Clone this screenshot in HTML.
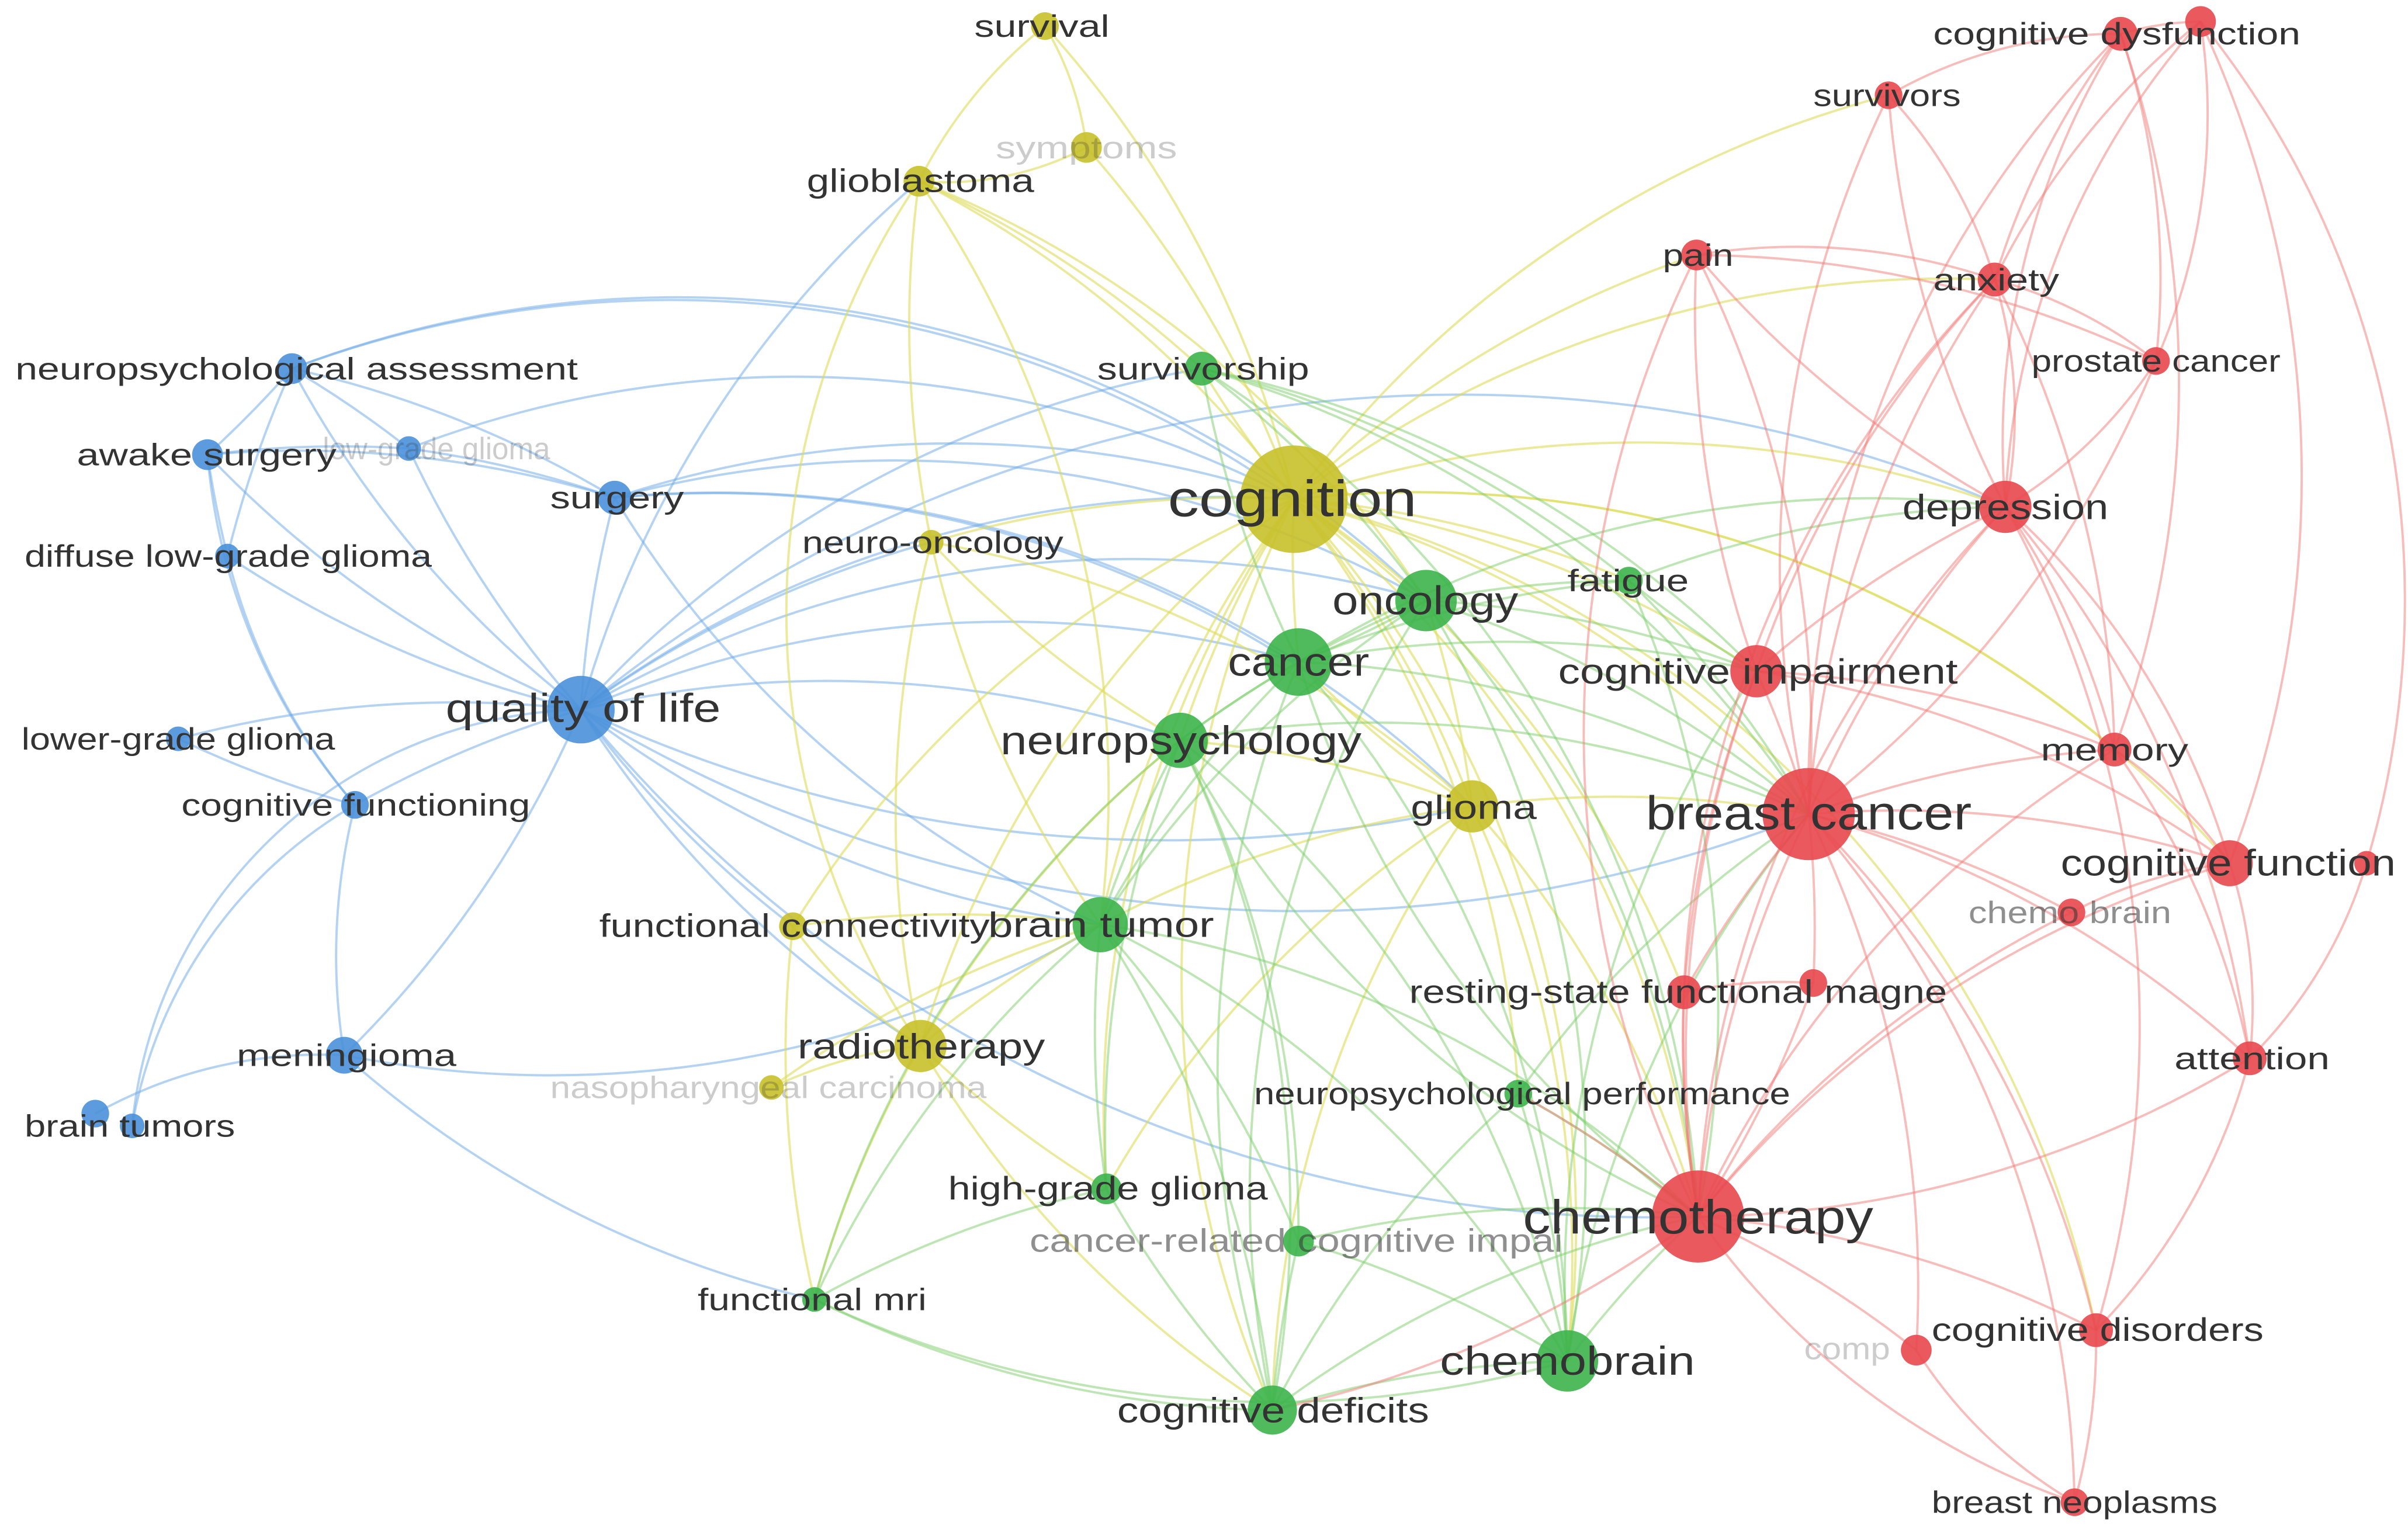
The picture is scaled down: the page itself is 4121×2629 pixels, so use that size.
<!DOCTYPE html>
<html><head><meta charset="utf-8"><style>
html,body{margin:0;padding:0;background:#fff;}
svg{display:block;}
text{font-family:"Liberation Sans",sans-serif;fill:#333;}
.f{fill-opacity:0.25}
.h{fill-opacity:0.55}
</style></head><body>
<svg width="4121" height="2629" viewBox="0 0 1567 1000" preserveAspectRatio="none" xmlns="http://www.w3.org/2000/svg">
<g fill="none" stroke="#6aa8e6" stroke-width="1.5" stroke-opacity="0.5">
<path d="M190,240A700,700 0 0 1 135,296"/><path d="M190,240A700,700 0 0 1 400,324"/><path d="M190,240A700,700 0 0 0 378,462"/><path d="M190,240A700,700 0 0 1 266,292"/><path d="M190,240A700,700 0 0 0 148,362"/><path d="M190,240A700,700 0 0 1 842,325"/><path d="M190,240A700,700 0 0 1 928,391"/>
<path d="M135,296A700,700 0 0 1 266,292"/><path d="M135,296A700,700 0 0 0 148,362"/><path d="M135,296A700,700 0 0 0 378,462"/><path d="M135,296A700,700 0 0 1 400,324"/><path d="M135,296A400,400 0 0 0 231,524"/>
<path d="M266,292A700,700 0 0 1 400,324"/><path d="M266,292A700,700 0 0 0 378,462"/><path d="M266,292A700,700 0 0 1 842,325"/>
<path d="M400,324A700,700 0 0 0 378,462"/><path d="M400,324A700,700 0 0 1 842,325"/><path d="M400,324A700,700 0 0 1 928,391"/><path d="M400,324A700,700 0 0 1 845,431"/><path d="M400,324A700,700 0 0 0 716,602"/><path d="M400,324A700,700 0 0 1 958,525"/>
<path d="M148,362A700,700 0 0 0 378,462"/><path d="M148,362A400,400 0 0 0 231,524"/><path d="M116,481A700,700 0 0 1 378,462"/><path d="M116,481A700,700 0 0 0 231,524"/>
<path d="M231,524A700,700 0 0 1 378,462"/><path d="M231,524A400,400 0 0 0 224,687"/><path d="M231,524A300,300 0 0 0 86,733"/>
<path d="M224,687A700,700 0 0 0 378,462"/><path d="M224,687A300,300 0 0 0 62,725"/><path d="M224,687A700,700 0 0 0 716,602"/><path d="M224,687A700,700 0 0 0 530,846"/>
<path d="M378,462A700,700 0 0 1 842,325"/><path d="M378,462A700,700 0 0 1 845,431"/><path d="M378,462A700,700 0 0 1 768,482"/><path d="M378,462A700,700 0 0 0 716,602"/><path d="M378,462A700,700 0 0 1 928,391"/><path d="M378,462A900,900 0 0 0 958,525"/><path d="M378,462A900,900 0 0 0 1177,530"/><path d="M378,462A900,900 0 0 0 1105,792"/><path d="M378,462A700,700 0 0 0 599,681"/><path d="M378,462A700,700 0 0 1 606,353"/><path d="M378,462A700,700 0 0 0 516,603"/><path d="M378,462A700,700 0 0 1 598,118"/><path d="M378,462A700,700 0 0 1 782,240"/><path d="M378,462A900,900 0 0 1 1305,330"/><path d="M378,462A300,300 0 0 0 86,733"/>
</g>
<g fill="none" stroke="#dedc5a" stroke-width="1.5" stroke-opacity="0.6">
<path d="M680,17A300,300 0 0 0 598,118"/><path d="M680,17A700,700 0 0 1 842,325"/><path d="M680,17A200,200 0 0 1 707,96"/><path d="M707,96A700,700 0 0 1 842,325"/><path d="M707,96A200,200 0 0 1 598,118"/>
<path d="M598,118A700,700 0 0 1 842,325"/><path d="M598,118A700,700 0 0 0 606,353"/><path d="M598,118A700,700 0 0 1 716,602"/><path d="M598,118A500,500 0 0 0 599,681"/><path d="M598,118A700,700 0 0 1 928,391"/><path d="M598,118A700,700 0 0 1 782,240"/>
<path d="M842,325A700,700 0 0 0 606,353"/><path d="M842,325A700,700 0 0 1 958,525"/><path d="M842,325A700,700 0 0 0 845,431"/><path d="M842,325A700,700 0 0 1 928,391"/><path d="M842,325A700,700 0 0 0 768,482"/><path d="M842,325A700,700 0 0 0 716,602"/><path d="M842,325A700,700 0 0 0 599,681"/><path d="M842,325A700,700 0 0 1 1177,530"/><path d="M842,325A700,700 0 0 1 1105,792"/><path d="M842,325A700,700 0 0 1 1143,437"/><path d="M842,325A700,700 0 0 1 1305,330"/><path d="M842,325A700,700 0 0 1 782,240"/><path d="M842,325A700,700 0 0 1 1060,378"/><path d="M842,325A700,700 0 0 1 1104,166"/><path d="M842,325A700,700 0 0 1 1298,182"/><path d="M842,325A700,700 0 0 1 1229,62"/><path d="M842,325A700,700 0 0 1 1376,488"/><path d="M842,325A700,700 0 0 1 1451,562"/><path d="M842,325A700,700 0 0 1 1020,886"/><path d="M842,325A700,700 0 0 0 828,918"/><path d="M842,325A700,700 0 0 1 988,712"/><path d="M842,325A700,700 0 0 0 720,774"/><path d="M842,325A700,700 0 0 0 516,603"/><path d="M842,325A700,700 0 0 1 1096,646"/><path d="M842,325A700,700 0 0 1 1364,866"/>
<path d="M606,353A700,700 0 0 0 716,602"/><path d="M606,353A700,700 0 0 0 768,482"/><path d="M606,353A700,700 0 0 0 599,681"/><path d="M606,353A700,700 0 0 1 958,525"/>
<path d="M958,525A700,700 0 0 0 716,602"/><path d="M958,525A700,700 0 0 0 928,391"/><path d="M958,525A700,700 0 0 1 1105,792"/><path d="M958,525A700,700 0 0 1 845,431"/><path d="M958,525A700,700 0 0 1 1177,530"/><path d="M958,525A700,700 0 0 0 768,482"/><path d="M958,525A700,700 0 0 0 720,774"/><path d="M958,525A700,700 0 0 1 1020,886"/><path d="M958,525A700,700 0 0 0 828,918"/>
<path d="M516,603A700,700 0 0 1 716,602"/><path d="M516,603A300,300 0 0 0 599,681"/><path d="M516,603A700,700 0 0 0 530,846"/>
<path d="M599,681A700,700 0 0 1 716,602"/><path d="M599,681A700,700 0 0 1 768,482"/><path d="M599,681A700,700 0 0 0 720,774"/><path d="M599,681A700,700 0 0 0 828,918"/><path d="M599,681A700,700 0 0 0 530,846"/><path d="M599,681A300,300 0 0 0 502,708"/><path d="M502,708A700,700 0 0 1 716,602"/>
</g>
<g fill="none" stroke="#7ccd6a" stroke-width="1.5" stroke-opacity="0.5">
<path d="M782,240A700,700 0 0 1 928,391"/><path d="M782,240A700,700 0 0 0 845,431"/><path d="M782,240A700,700 0 0 1 1177,530"/><path d="M782,240A700,700 0 0 1 1105,792"/><path d="M782,240A700,700 0 0 1 1143,437"/><path d="M782,240A700,700 0 0 1 1060,378"/>
<path d="M928,391A700,700 0 0 1 845,431"/><path d="M928,391A700,700 0 0 1 1177,530"/><path d="M928,391A700,700 0 0 1 1105,792"/><path d="M928,391A700,700 0 0 0 768,482"/><path d="M928,391A700,700 0 0 1 1143,437"/><path d="M928,391A700,700 0 0 1 1060,378"/><path d="M928,391A700,700 0 0 1 1020,886"/><path d="M928,391A700,700 0 0 0 828,918"/><path d="M928,391A700,700 0 0 0 716,602"/>
<path d="M845,431A700,700 0 0 1 1177,530"/><path d="M845,431A700,700 0 0 0 1105,792"/><path d="M845,431A700,700 0 0 0 768,482"/><path d="M845,431A700,700 0 0 0 716,602"/><path d="M845,431A700,700 0 0 1 1143,437"/><path d="M845,431A700,700 0 0 1 1020,886"/><path d="M845,431A700,700 0 0 0 828,918"/><path d="M845,431A700,700 0 0 1 1060,378"/><path d="M845,431A700,700 0 0 1 1305,330"/>
<path d="M768,482A700,700 0 0 0 716,602"/><path d="M768,482A700,700 0 0 0 720,774"/><path d="M768,482A700,700 0 0 1 828,918"/><path d="M768,482A700,700 0 0 1 1177,530"/><path d="M768,482A700,700 0 0 0 1105,792"/><path d="M768,482A700,700 0 0 1 1020,886"/><path d="M768,482A700,700 0 0 0 530,846"/><path d="M768,482A700,700 0 0 1 845,808"/>
<path d="M716,602A700,700 0 0 0 720,774"/><path d="M716,602A700,700 0 0 1 828,918"/><path d="M716,602A700,700 0 0 0 530,846"/><path d="M716,602A700,700 0 0 1 1020,886"/><path d="M716,602A700,700 0 0 1 845,808"/><path d="M716,602A700,700 0 0 1 1105,792"/>
<path d="M988,712A700,700 0 0 1 1105,792"/><path d="M988,712A700,700 0 0 1 1177,530"/><path d="M988,712A700,700 0 0 1 1020,886"/><path d="M988,712A700,700 0 0 0 828,918"/>
<path d="M720,774A700,700 0 0 0 828,918"/><path d="M720,774A700,700 0 0 0 530,846"/><path d="M845,808A700,700 0 0 1 1105,792"/><path d="M845,808A700,700 0 0 0 828,918"/><path d="M845,808A700,700 0 0 1 1020,886"/>
<path d="M530,846A700,700 0 0 0 828,918"/><path d="M530,846A700,700 0 0 0 1020,886"/>
<path d="M1020,886A700,700 0 0 1 1105,792"/><path d="M1020,886A700,700 0 0 1 1177,530"/><path d="M1020,886A700,700 0 0 0 828,918"/><path d="M1020,886A700,700 0 0 1 1143,437"/><path d="M828,918A700,700 0 0 1 1105,792"/>
<path d="M1060,378A700,700 0 0 1 1177,530"/><path d="M1060,378A700,700 0 0 1 1105,792"/><path d="M1060,378A700,700 0 0 1 1305,330"/><path d="M1060,378A700,700 0 0 0 1143,437"/>
</g>
<g fill="none" stroke="#f07b78" stroke-width="1.5" stroke-opacity="0.5">
<path d="M1380,22A200,200 0 0 1 1432,14"/><path d="M1380,22A300,300 0 0 0 1229,62"/><path d="M1380,22A500,500 0 0 0 1298,182"/><path d="M1380,22A500,500 0 0 0 1305,330"/><path d="M1380,22A500,500 0 0 1 1403,235"/><path d="M1380,22A700,700 0 0 0 1177,530"/><path d="M1380,22A700,700 0 0 1 1376,488"/>
<path d="M1432,14A500,500 0 0 0 1298,182"/><path d="M1432,14A500,500 0 0 0 1305,330"/><path d="M1432,14A700,700 0 0 1 1451,562"/><path d="M1432,14A400,400 0 0 1 1403,235"/>
<path d="M1229,62A300,300 0 0 1 1298,182"/><path d="M1229,62A700,700 0 0 0 1177,530"/><path d="M1229,62A700,700 0 0 0 1305,330"/>
<path d="M1104,166A400,400 0 0 1 1298,182"/><path d="M1104,166A700,700 0 0 0 1305,330"/><path d="M1104,166A700,700 0 0 1 1177,530"/><path d="M1104,166A700,700 0 0 0 1143,437"/><path d="M1104,166A700,700 0 0 0 1105,792"/><path d="M1104,166A700,700 0 0 1 1403,235"/>
<path d="M1298,182A300,300 0 0 1 1305,330"/><path d="M1298,182A300,300 0 0 1 1403,235"/><path d="M1298,182A700,700 0 0 0 1177,530"/><path d="M1298,182A700,700 0 0 0 1105,792"/><path d="M1298,182A700,700 0 0 0 1143,437"/><path d="M1298,182A700,700 0 0 1 1376,488"/>
<path d="M1403,235A300,300 0 0 1 1305,330"/><path d="M1403,235A700,700 0 0 1 1177,530"/>
<path d="M1305,330A700,700 0 0 0 1177,530"/><path d="M1305,330A700,700 0 0 0 1105,792"/><path d="M1305,330A700,700 0 0 0 1143,437"/><path d="M1305,330A500,500 0 0 1 1376,488"/><path d="M1305,330A500,500 0 0 1 1451,562"/><path d="M1305,330A700,700 0 0 1 1464,689"/><path d="M1305,330A700,700 0 0 1 1364,866"/>
<path d="M1143,437A700,700 0 0 1 1177,530"/><path d="M1143,437A700,700 0 0 0 1105,792"/><path d="M1143,437A700,700 0 0 1 1376,488"/><path d="M1143,437A700,700 0 0 0 1096,646"/><path d="M1143,437A700,700 0 0 1 1451,562"/>
<path d="M1177,530A700,700 0 0 0 1105,792"/><path d="M1177,530A700,700 0 0 1 1376,488"/><path d="M1177,530A700,700 0 0 1 1451,562"/><path d="M1177,530A700,700 0 0 1 1348,594"/><path d="M1177,530A700,700 0 0 0 1096,646"/><path d="M1177,530A700,700 0 0 1 1180,640"/><path d="M1177,530A700,700 0 0 1 1464,689"/><path d="M1177,530A700,700 0 0 1 1364,866"/><path d="M1177,530A700,700 0 0 1 1350,978"/><path d="M1177,530A700,700 0 0 1 1247,879"/>
<path d="M1376,488A300,300 0 0 1 1451,562"/><path d="M1376,488A500,500 0 0 1 1464,689"/><path d="M1376,488A700,700 0 0 0 1105,792"/>
<path d="M1451,562A300,300 0 0 1 1464,689"/><path d="M1451,562A300,300 0 0 0 1348,594"/><path d="M1451,562A700,700 0 0 0 1105,792"/><path d="M1432,14A600,600 0 0 1 1540,562"/><path d="M1540,562A300,300 0 0 1 1464,689"/>
<path d="M1348,594A700,700 0 0 0 1105,792"/><path d="M1096,646A700,700 0 0 0 1105,792"/><path d="M1180,640A700,700 0 0 1 1105,792"/><path d="M1096,646A300,300 0 0 1 1180,640"/>
<path d="M1464,689A700,700 0 0 1 1105,792"/><path d="M1464,689A400,400 0 0 1 1364,866"/><path d="M1364,866A700,700 0 0 0 1105,792"/><path d="M1364,866A400,400 0 0 1 1350,978"/>
<path d="M1247,879A700,700 0 0 0 1105,792"/><path d="M1247,879A300,300 0 0 0 1350,978"/><path d="M1105,792A500,500 0 0 0 1350,978"/><path d="M1105,792A700,700 0 0 1 828,918"/><path d="M1105,792A700,700 0 0 0 988,712"/>
</g>
<g fill-opacity="0.9">
<g fill="#4a90d9">
<circle cx="190" cy="240" r="10"/><circle cx="135" cy="296" r="10"/><circle cx="266" cy="292" r="8"/><circle cx="400" cy="324" r="11"/><circle cx="148" cy="362" r="8"/><circle cx="378" cy="462" r="22"/><circle cx="116" cy="481" r="8"/><circle cx="231" cy="524" r="9"/><circle cx="224" cy="687" r="12"/><circle cx="62" cy="725" r="9"/><circle cx="86" cy="733" r="8"/>
</g>
<g fill="#c8c02a">
<circle cx="680" cy="17" r="9"/><circle cx="707" cy="96" r="10"/><circle cx="598" cy="118" r="10"/><circle cx="842" cy="325" r="35"/><circle cx="606" cy="353" r="8"/><circle cx="958" cy="525" r="17"/><circle cx="516" cy="603" r="9"/><circle cx="599" cy="681" r="17"/><circle cx="502" cy="708" r="8"/>
</g>
<g fill="#3cb44b">
<circle cx="782" cy="240" r="11"/><circle cx="928" cy="391" r="20"/><circle cx="1060" cy="378" r="9"/><circle cx="845" cy="431" r="22"/><circle cx="768" cy="482" r="18"/><circle cx="716" cy="602" r="18"/><circle cx="988" cy="712" r="9"/><circle cx="720" cy="774" r="10"/><circle cx="845" cy="808" r="10"/><circle cx="530" cy="846" r="8"/><circle cx="1020" cy="886" r="20"/><circle cx="828" cy="918" r="16"/>
</g>
<g fill="#e8474c">
<circle cx="1380" cy="22" r="11"/><circle cx="1432" cy="14" r="10"/><circle cx="1229" cy="62" r="9"/><circle cx="1104" cy="166" r="10"/><circle cx="1298" cy="182" r="11"/><circle cx="1403" cy="235" r="9"/><circle cx="1305" cy="330" r="17"/><circle cx="1143" cy="437" r="17"/><circle cx="1177" cy="530" r="30"/><circle cx="1376" cy="488" r="11"/><circle cx="1451" cy="562" r="15"/><circle cx="1540" cy="562" r="8"/><circle cx="1348" cy="594" r="9"/><circle cx="1096" cy="646" r="11"/><circle cx="1180" cy="640" r="9"/><circle cx="1464" cy="689" r="11"/><circle cx="1105" cy="792" r="30"/><circle cx="1364" cy="866" r="11"/><circle cx="1247" cy="879" r="10"/><circle cx="1350" cy="978" r="9"/>
</g>
</g>
<g lengthAdjust="spacingAndGlyphs">
<text x="10" y="247" font-size="20" textLength="366" lengthAdjust="spacingAndGlyphs">neuropsychological assessment</text>
<text x="50" y="303" font-size="20" textLength="169" lengthAdjust="spacingAndGlyphs">awake surgery</text>
<text x="210" y="299" font-size="20" class="f" textLength="148" lengthAdjust="spacingAndGlyphs">low-grade glioma</text>
<text x="358" y="331" font-size="20" textLength="87" lengthAdjust="spacingAndGlyphs">surgery</text>
<text x="16" y="369" font-size="20" textLength="265" lengthAdjust="spacingAndGlyphs">diffuse low-grade glioma</text>
<text x="290" y="470" font-size="26" textLength="179" lengthAdjust="spacingAndGlyphs">quality of life</text>
<text x="14" y="488" font-size="20" textLength="204" lengthAdjust="spacingAndGlyphs">lower-grade glioma</text>
<text x="118" y="531" font-size="20" textLength="227" lengthAdjust="spacingAndGlyphs">cognitive functioning</text>
<text x="154" y="694" font-size="20" textLength="143" lengthAdjust="spacingAndGlyphs">meningioma</text>
<text x="16" y="740" font-size="20" textLength="137" lengthAdjust="spacingAndGlyphs">brain tumors</text>
<text x="634" y="24" font-size="20" textLength="88" lengthAdjust="spacingAndGlyphs">survival</text>
<text x="648" y="103" font-size="20" class="f" textLength="118" lengthAdjust="spacingAndGlyphs">symptoms</text>
<text x="525" y="125" font-size="21" textLength="148" lengthAdjust="spacingAndGlyphs">glioblastoma</text>
<text x="760" y="336" font-size="33" textLength="162" lengthAdjust="spacingAndGlyphs">cognition</text>
<text x="522" y="360" font-size="20" textLength="170" lengthAdjust="spacingAndGlyphs">neuro-oncology</text>
<text x="918" y="533" font-size="22" textLength="82" lengthAdjust="spacingAndGlyphs">glioma</text>
<text x="390" y="610" font-size="21" textLength="254" lengthAdjust="spacingAndGlyphs">functional connectivity</text>
<text x="519" y="689" font-size="23" textLength="161" lengthAdjust="spacingAndGlyphs">radiotherapy</text>
<text x="358" y="715" font-size="20" class="f" textLength="284" lengthAdjust="spacingAndGlyphs">nasopharyngeal carcinoma</text>
<text x="714" y="247" font-size="20" textLength="138" lengthAdjust="spacingAndGlyphs">survivorship</text>
<text x="867" y="400" font-size="26" textLength="121" lengthAdjust="spacingAndGlyphs">oncology</text>
<text x="1020" y="385" font-size="20" textLength="79" lengthAdjust="spacingAndGlyphs">fatigue</text>
<text x="799" y="440" font-size="26" textLength="92" lengthAdjust="spacingAndGlyphs">cancer</text>
<text x="651" y="491" font-size="26" textLength="235" lengthAdjust="spacingAndGlyphs">neuropsychology</text>
<text x="643" y="610" font-size="23" textLength="147" lengthAdjust="spacingAndGlyphs">brain tumor</text>
<text x="816" y="719" font-size="20" textLength="349" lengthAdjust="spacingAndGlyphs">neuropsychological performance</text>
<text x="617" y="781" font-size="21" textLength="208" lengthAdjust="spacingAndGlyphs">high-grade glioma</text>
<text x="670" y="815" font-size="21" class="h" textLength="347" lengthAdjust="spacingAndGlyphs">cancer-related cognitive impai</text>
<text x="454" y="853" font-size="20" textLength="149" lengthAdjust="spacingAndGlyphs">functional mri</text>
<text x="937" y="895" font-size="26" textLength="166" lengthAdjust="spacingAndGlyphs">chemobrain</text>
<text x="727" y="926" font-size="23" textLength="203" lengthAdjust="spacingAndGlyphs">cognitive deficits</text>
<text x="1258" y="29" font-size="20" textLength="239" lengthAdjust="spacingAndGlyphs">cognitive dysfunction</text>
<text x="1180" y="69" font-size="20" textLength="96" lengthAdjust="spacingAndGlyphs">survivors</text>
<text x="1082" y="173" font-size="20" textLength="46" lengthAdjust="spacingAndGlyphs">pain</text>
<text x="1258" y="189" font-size="20" textLength="82" lengthAdjust="spacingAndGlyphs">anxiety</text>
<text x="1322" y="242" font-size="20" textLength="162" lengthAdjust="spacingAndGlyphs">prostate cancer</text>
<text x="1238" y="338" font-size="23" textLength="134" lengthAdjust="spacingAndGlyphs">depression</text>
<text x="1014" y="445" font-size="23" textLength="260" lengthAdjust="spacingAndGlyphs">cognitive impairment</text>
<text x="1071" y="540" font-size="31" textLength="212" lengthAdjust="spacingAndGlyphs">breast cancer</text>
<text x="1328" y="495" font-size="20" textLength="96" lengthAdjust="spacingAndGlyphs">memory</text>
<text x="1341" y="570" font-size="24" textLength="218" lengthAdjust="spacingAndGlyphs">cognitive function</text>
<text x="1281" y="601" font-size="20" class="h" textLength="132" lengthAdjust="spacingAndGlyphs">chemo brain</text>
<text x="917" y="653" font-size="21" textLength="350" lengthAdjust="spacingAndGlyphs">resting-state functional magne</text>
<text x="1415" y="696" font-size="20" textLength="101" lengthAdjust="spacingAndGlyphs">attention</text>
<text x="991" y="803" font-size="31" textLength="228" lengthAdjust="spacingAndGlyphs">chemotherapy</text>
<text x="1257" y="873" font-size="21" textLength="216" lengthAdjust="spacingAndGlyphs">cognitive disorders</text>
<text x="1174" y="885" font-size="20" class="f" textLength="56" lengthAdjust="spacingAndGlyphs">comp</text>
<text x="1257" y="985" font-size="20" textLength="186" lengthAdjust="spacingAndGlyphs">breast neoplasms</text>
</g>
</svg>
</body></html>
